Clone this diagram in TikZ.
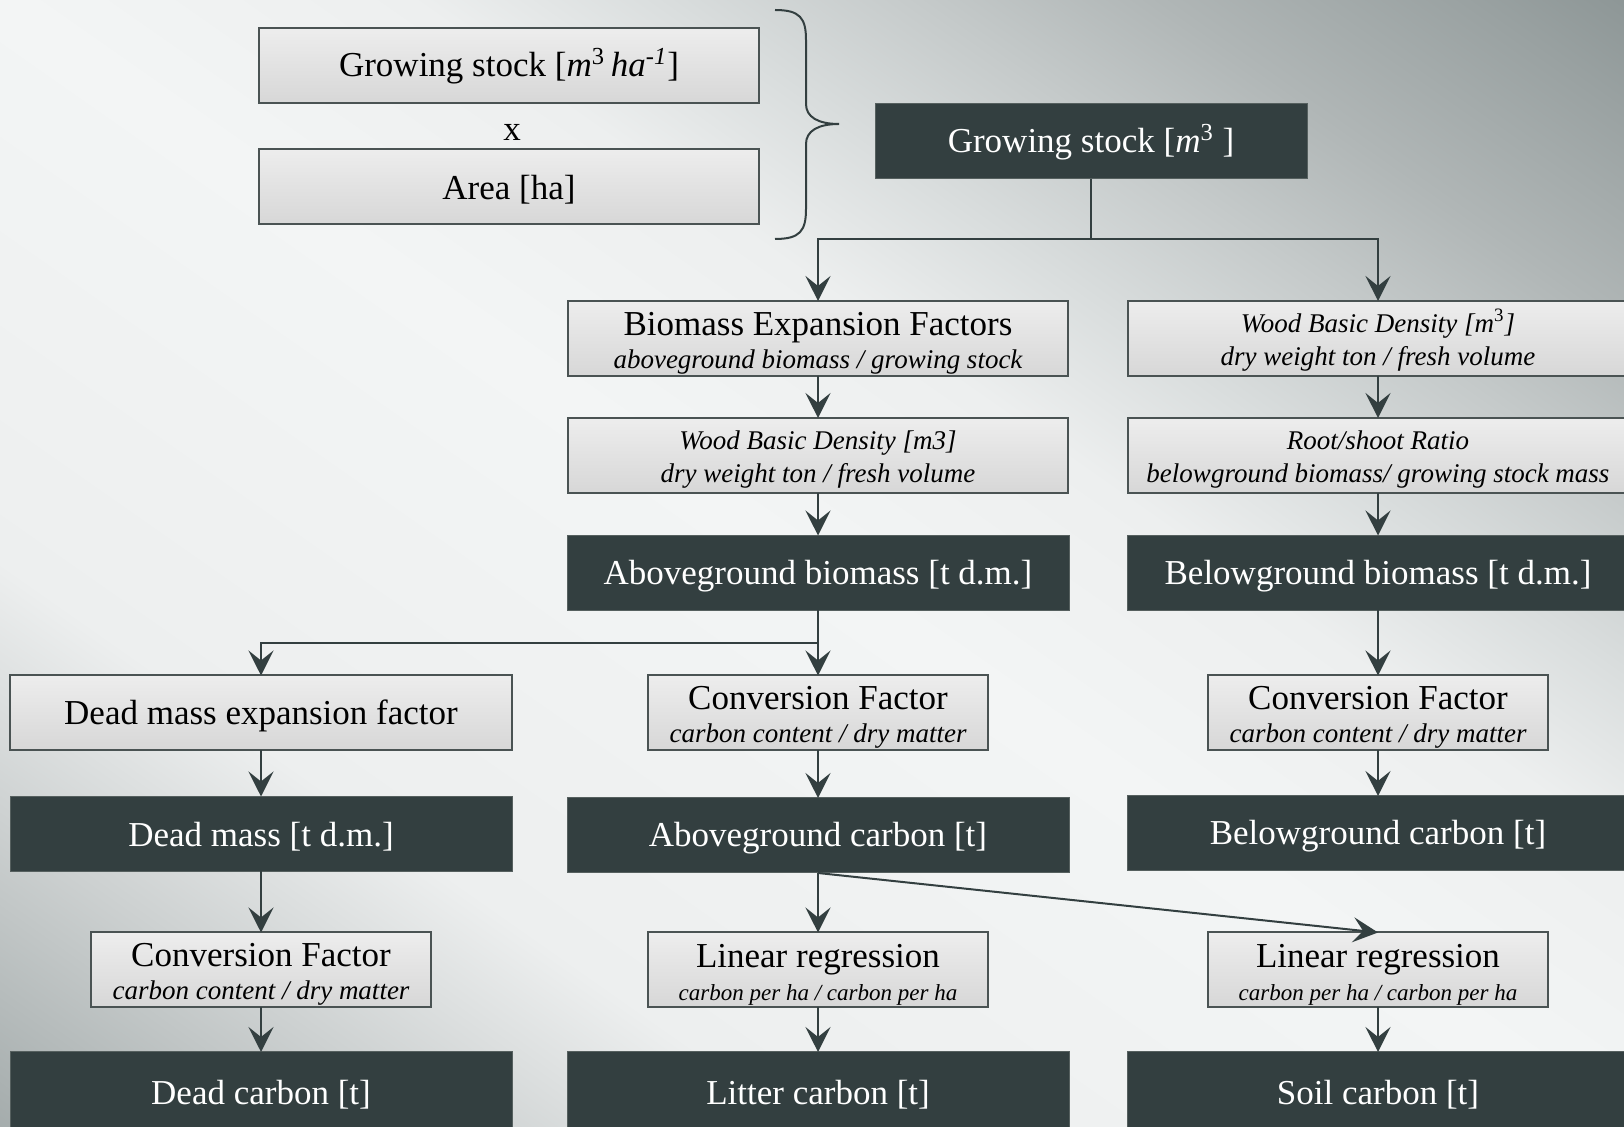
\documentclass[tikz,border=0pt]{standalone}
\usepackage{fontspec}
\setmainfont{Liberation Serif}
\usetikzlibrary{arrows.meta}
\definecolor{dk}{HTML}{333F40}
\definecolor{dkb}{HTML}{56605F}
\definecolor{bd}{HTML}{4A5353}
\definecolor{lt1}{HTML}{EDEDED}
\definecolor{lt2}{HTML}{D7D7D7}
\definecolor{bg0}{HTML}{8A9393}
\definecolor{bg1}{HTML}{9FA7A7}
\definecolor{bg2}{HTML}{CDD1D1}
\definecolor{bg3}{HTML}{EDEFEF}
\definecolor{bg4}{HTML}{F3F5F5}
\definecolor{bg5}{HTML}{EDEFEF}
\definecolor{bg6}{HTML}{DADEDE}
\definecolor{bg7}{HTML}{C5CACA}
\definecolor{bg8}{HTML}{B0B6B6}
\definecolor{bg9}{HTML}{9AA2A2}
\definecolor{bgX}{HTML}{6E7A7A}
\pgfdeclarehorizontalshading{bgshade}{100bp}{color(0bp)=(bg0); color(25bp)=(bg0); color(29.25bp)=(bg1); color(35.5bp)=(bg2); color(40bp)=(bg3); color(50bp)=(bg4); color(55bp)=(bg5); color(58bp)=(bg6); color(61.25bp)=(bg7); color(64.25bp)=(bg8); color(68bp)=(bg9); color(75bp)=(bgX); color(100bp)=(bgX)}
\newcommand{\ti}{\fontsize{17.5}{16.5}\selectfont}
\newcommand{\sbi}{\fontsize{13.5}{16.5}\selectfont\itshape}
\newcommand{\sbs}{\fontsize{11.5}{16.5}\selectfont\itshape}
\newcommand{\st}{\rule{0pt}{15pt}}
\newcommand{\stt}{\rule{0pt}{16pt}}
\newcommand{\sti}{\rule{0pt}{13pt}}
\tikzset{
 lbox/.style={draw=bd, line width=1pt, top color=lt1, bottom color=lt2, minimum height=37.5pt, inner sep=0pt, outer sep=0pt, align=center, font=\ti},
 dbox/.style={draw=dkb, line width=0.5pt, fill=dk, text=white, minimum height=37.5pt, minimum width=251pt, inner sep=0pt, outer sep=0pt, align=center, font=\ti},
 wide/.style={minimum width=250pt},
 narrow/.style={minimum width=170pt},
 arr/.style={draw=dk, line width=1pt, -{Stealth[length=12.5pt,width=12.5pt,inset=5pt]}},
 ln/.style={draw=dk, line width=1pt},
}
\begin{document}
\begin{tikzpicture}[x=0.5pt,y=-0.5pt]
\useasboundingbox (0,0) rectangle (1624,1127);
\begin{scope}
\clip (0,0) rectangle (1624,1127);
\shade[shading=bgshade, transform canvas={rotate around={55:(812,563.5)}}] (-348,-737) rectangle (1972,1864);
\end{scope}

% top group
\node[lbox, wide] (gs1) at (509,65.5) {\st Growing stock [\textit{m}\textsuperscript{3}\,\textit{ha}\textsuperscript{\textit{-1}}]};
\node[font=\ti] (times) at (512,132) {x};
\node[lbox, wide] (area) at (509,186.5) {\st Area [ha]};
\draw[dk, line width=1pt] (775,10) .. controls (800,10) and (806,18) .. (806,40) -- (806,104) .. controls (806,117) and (818,124) .. (839,124) .. controls (818,124) and (806,131) .. (806,144) -- (806,209) .. controls (806,231) and (800,239) .. (775,239);
\node[dbox, minimum width=216pt] (gs) at (1091,141.5) {\st Growing stock [\textit{m}\textsuperscript{3} ]};

% row 1-3
\node[lbox, wide] (bef) at (818,338.5) {\stt Biomass Expansion Factors\\{\sbi aboveground biomass / growing stock}};
\node[lbox, wide] (wbdr) at (1378,338.5) {{\sbi\sti Wood Basic Density [m\textup{\textsuperscript{3}}]}\\{\sbi dry weight ton / fresh volume}};
\node[lbox, wide] (wbdm) at (818,455.5) {{\sbi\sti Wood Basic Density [m3]}\\{\sbi dry weight ton / fresh volume}};
\node[lbox, wide] (rsr) at (1378,455.5) {{\sbi\sti Root/shoot Ratio}\\{\sbi belowground biomass/ growing stock mass}};
\node[dbox] (agb) at (818,573) {\st Aboveground biomass [t d.m.]};
\node[dbox] (bgb) at (1378,573) {\st Belowground biomass [t d.m.]};

% row 4-5
\node[lbox, minimum width=251pt] (dmef) at (261,713) {\st Dead mass expansion factor};
\node[lbox, narrow] (cfa) at (818,713) {\stt Conversion Factor\\{\sbi carbon content / dry matter}};
\node[lbox, narrow] (cfb) at (1378,713) {\stt Conversion Factor\\{\sbi carbon content / dry matter}};
\node[dbox] (dm) at (261,834) {\st Dead mass [t d.m.]};
\node[dbox] (agc) at (818,835.5) {\st Aboveground carbon [t]};
\node[dbox] (bgc) at (1378,833.5) {\st Belowground carbon [t]};

% row 6-7
\node[lbox, narrow] (cfd) at (261,970) {\stt Conversion Factor\\{\sbi carbon content / dry matter}};
\node[lbox, narrow] (lra) at (818,970) {\stt Linear regression\\{\sbs carbon per ha / carbon per ha}};
\node[lbox, narrow] (lrb) at (1378,970) {\stt Linear regression\\{\sbs carbon per ha / carbon per ha}};
\node[dbox, minimum height=40pt] (dc) at (261,1092) {\st Dead carbon [t]};
\node[dbox, minimum height=40pt] (lc) at (818,1092) {\st Litter carbon [t]};
\node[dbox, minimum height=40pt] (sc) at (1378,1092) {\st Soil carbon [t]};

% connectors
\coordinate (j1) at (1091,239);
\draw[ln] (gs.south) -- (j1);
\draw[arr] (j1) -| (bef.north);
\draw[arr] (j1) -| (wbdr.north);
\draw[arr] (bef) -- (wbdm);
\draw[arr] (wbdm) -- (agb);
\draw[arr] (wbdr) -- (rsr);
\draw[arr] (rsr) -- (bgb);
\coordinate (j2) at (818,643);
\draw[arr] (agb) -- (cfa);
\draw[arr] (j2) -| (dmef.north);
\draw[arr] (bgb) -- (cfb);
\draw[arr] (dmef) -- (dm);
\draw[arr] (cfa) -- (agc);
\draw[arr] (cfb) -- (bgc);
\draw[arr] (dm) -- (cfd);
\draw[arr] (agc) -- (lra);
\draw[arr] (agc.south) -- (lrb.north);
\draw[arr] (cfd) -- (dc);
\draw[arr] (lra) -- (lc);
\draw[arr] (lrb) -- (sc);
\end{tikzpicture}
\end{document}
